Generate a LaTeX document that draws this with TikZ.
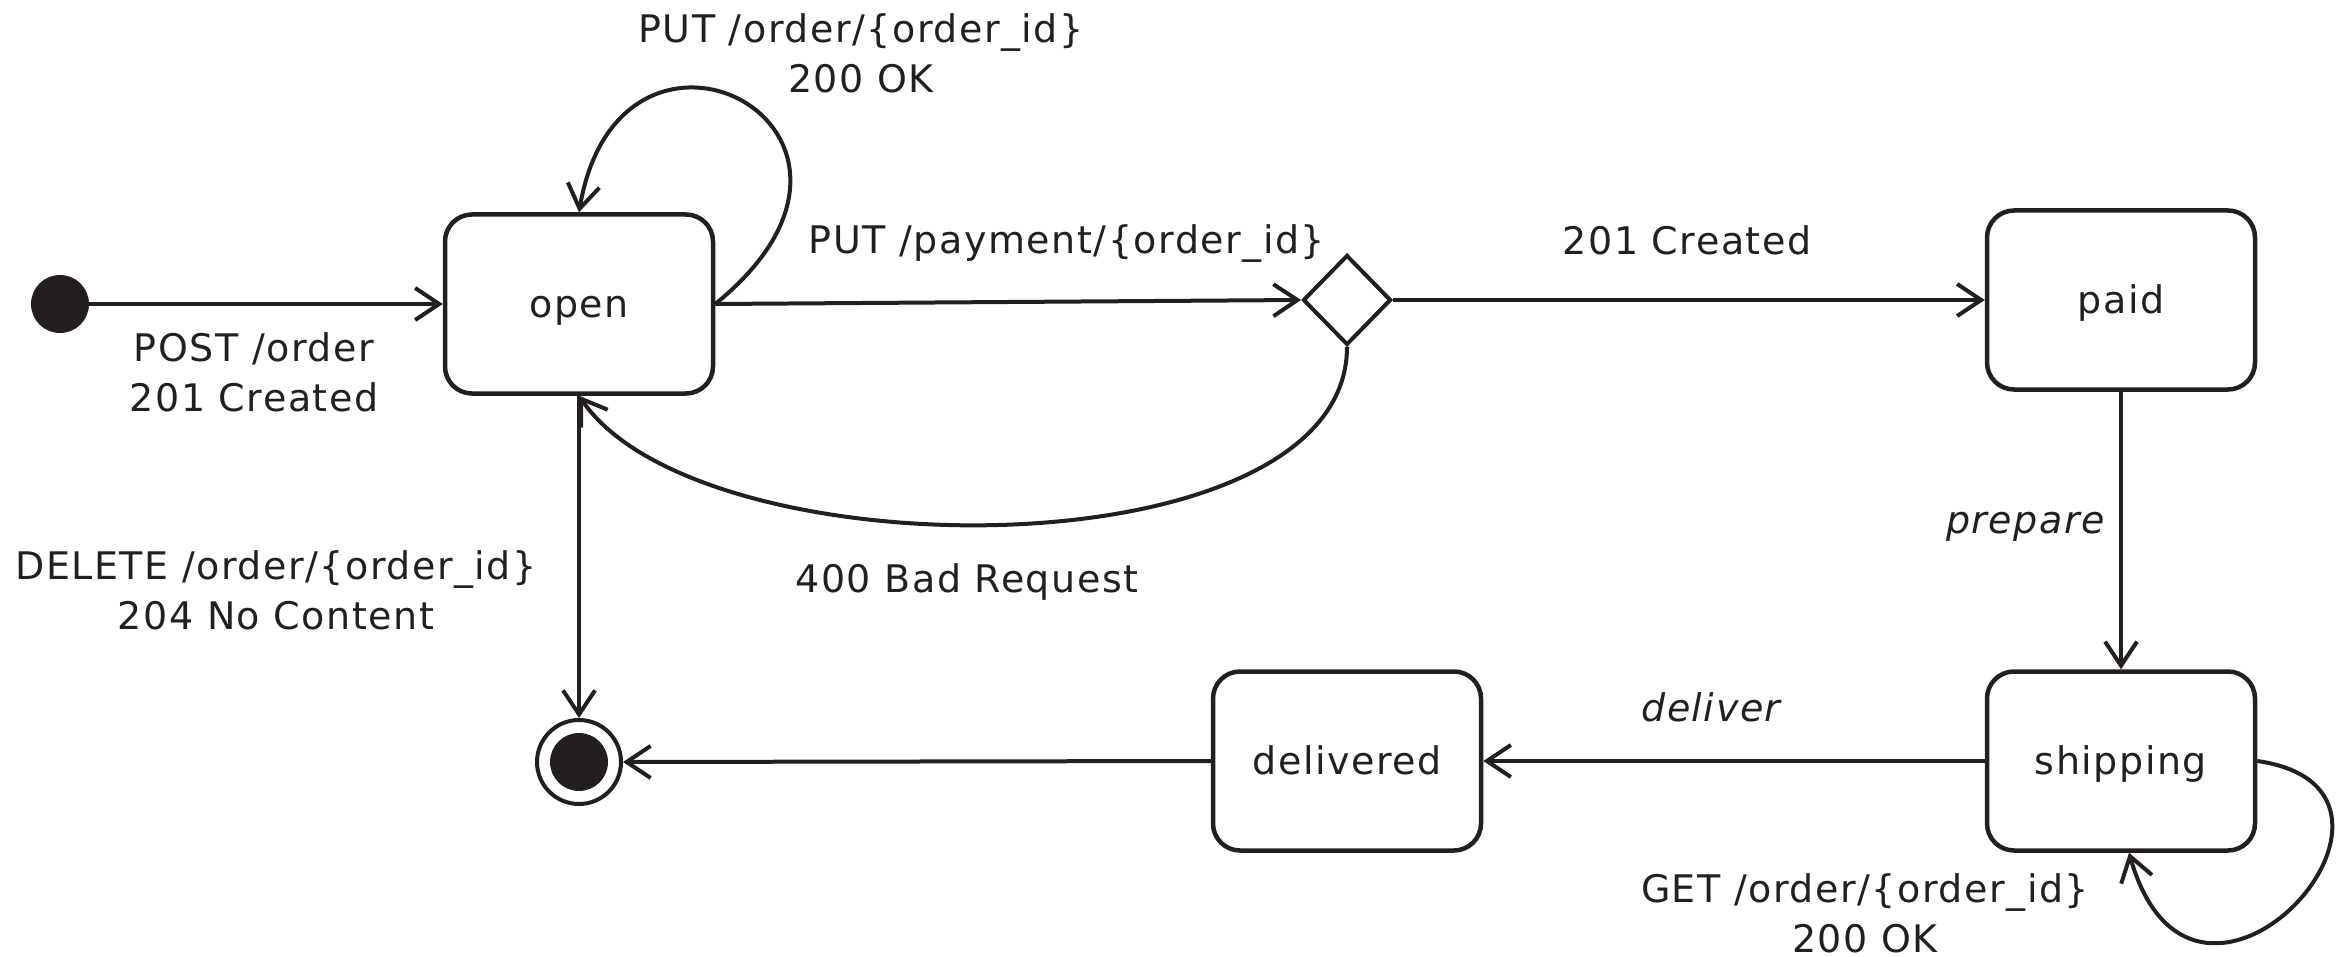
\documentclass[tikz,border=0pt]{standalone}
\usepackage{fontspec}
\setmainfont{DejaVu Sans}[LetterSpace=4]
\usetikzlibrary{arrows.meta,shapes.geometric,calc}
\definecolor{ink}{HTML}{231F20}

\begin{document}
\begin{tikzpicture}[x=1pt,y=-1pt,
  every node/.style={font=\fontsize{38}{50}\selectfont, text=ink},
  state/.style={draw=ink, line width=4.5pt, rounded corners=27pt,
    minimum width=268pt, minimum height=179pt, inner sep=0pt,
    text height=30pt, text depth=3pt},
  choice/.style={draw=ink, line width=4pt, shape=diamond, inner sep=0pt,
    minimum width=88pt, minimum height=90pt},
  startdot/.style={circle, fill=ink, inner sep=0pt, minimum size=58pt},
  enddot/.style={circle, draw=ink, line width=4pt, inner sep=0pt, minimum size=84pt},
  trans/.style={draw=ink, line width=4pt,
    -{Straight Barb[length=24pt,width=32pt]}},
  lbl/.style={align=center, inner sep=0pt},
  event/.style={lbl, font=\fontsize{38}{50}\selectfont\itshape}
]
\useasboundingbox (0,0) rectangle (2339,957);

% states
\node[startdot] (init) at (60,304) {};
\node[state] (open) at (579,304) {open};
\node[choice] (dec) at (1347,300) {};
\node[state] (paid) at (2121,300) {paid};
\node[state] (shipping) at (2121,761) {shipping};
\node[state] (delivered) at (1347,761) {delivered};
\node[enddot] (final) at (579,762) {};
\fill[ink] (final.center) circle[radius=29];

% transitions
\draw[trans] (init) -- (open.west);
\draw[trans] (open.east) .. controls (930,130) and (620,-30) .. (open.north);
\draw[trans] (open.east) -- (dec.west);
\draw[trans] (dec.east) -- (paid.west);
\draw[trans] (dec.south) .. controls (1347,575) and (700,575) .. (open.south);
\draw[trans] (open.south) -- (final.north);
\draw[trans] (paid.south) -- (shipping.north);
\draw[trans] (shipping.west) -- (delivered.east);
\draw[trans] (delivered.west) -- (final.east);
\draw[trans] (shipping.east) .. controls (2460,790) and (2195,1085) .. ($(shipping.south)+(8,0)$);

% labels
\node[lbl] (l-put-order) at (861,53) {PUT /order/\{order\_id\}\\200 OK};
\node[lbl] (l-put-pay) at (1067,244) {PUT /payment/\{order\_id\}};
\node[lbl] (l-created) at (1687,240) {201 Created};
\node[lbl] (l-post) at (254,372) {POST /order\\201 Created};
\node[lbl] (l-delete) at (276,590) {DELETE /order/\{order\_id\}\\204 No Content};
\node[lbl] (l-bad) at (967,582) {400 Bad Request};
\node[event, anchor=east] (l-prepare) at (2105,527) {prepare};
\node[event] (l-deliver) at (1711,707) {deliver};
\node[lbl] (l-get) at (1865,913) {GET /order/\{order\_id\}\\200 OK};
\end{tikzpicture}
\end{document}
